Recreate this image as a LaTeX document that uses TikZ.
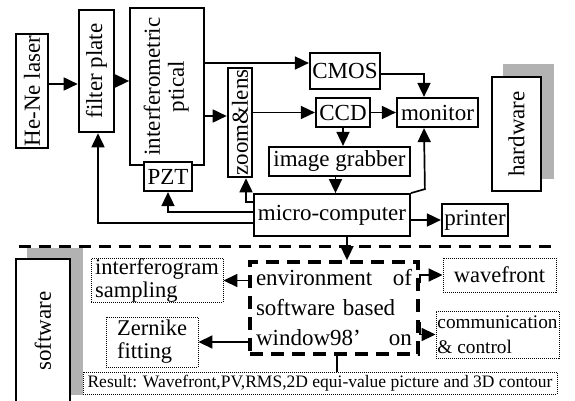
\documentclass[tikz,border=0pt]{standalone}
\usepackage{fontspec}
\setmainfont{Liberation Serif}
\usetikzlibrary{arrows.meta,calc}
\begin{document}
\begin{tikzpicture}[x=1pt,y=-1pt,
  box/.style={draw, line width=#1, fill=white, inner sep=0pt, font=\fontsize{23}{24}\selectfont},
  box/.default=1.8pt,
  dbox/.style={draw, line width=0.9pt, dash pattern=on 1pt off 1pt, fill=white, inner sep=0pt, font=\fontsize{22.5}{23}\selectfont},
  arr/.style={-{Triangle[length=14pt,width=13pt]}, line width=1.7pt},
  ln/.style={line width=1.7pt},
  shadow/.style={fill=gray!60}]
\useasboundingbox (0,0) rectangle (575,401);
\clip (0,0) rectangle (575,401);
% hardware nodes
\node[box, minimum width=32pt, minimum height=114pt] (laser) at (32,91) {\rotatebox{90}{He-Ne laser}};
\node[box=2.6pt, minimum width=35pt, minimum height=122pt] (filter) at (96.5,71) {\rotatebox{90}{filter plate}};
\node[box, minimum width=74pt, minimum height=157pt] (interf) at (167,86.5) {\rotatebox{90}{\begin{tabular}{@{}c@{}}interferometric\\ptical\end{tabular}}};
\node[box=2.2pt, minimum width=48pt, minimum height=29pt] (pzt) at (168,176.5) {PZT};
\node[box=2.6pt, minimum width=24pt, minimum height=109pt] (zoom) at (240,122.5) {\rotatebox{90}{zoom\&lens}};
\node[box=2.2pt, minimum width=70pt, minimum height=36pt] (cmos) at (345,71) {CMOS};
\node[box=2.2pt, minimum width=54pt, minimum height=29pt] (ccd) at (343,112.5) {CCD};
\node[box=2.2pt, minimum width=81pt, minimum height=29pt] (monitor) at (437.5,112.5) {monitor};
\node[box=2.2pt, minimum width=141pt, minimum height=29pt] (grab) at (339.5,161.5) {image grabber};
\node[box, minimum width=156pt, minimum height=42pt] (micro) at (332,215) {micro-computer};
\node[box=2.2pt, minimum width=66pt, minimum height=32pt] (printer) at (475,220) {printer};
\fill[shadow] (503,64) rectangle (554,179);
\node[box=2.2pt, minimum width=49pt, minimum height=114pt] (hw) at (516.5,134) {\rotatebox{90}{hardware}};
% connectors (upper)
\draw[arr] ($(laser.east)+(0,-7)$) coordinate (a1) -- (a1 -| filter.west);
\draw[arr] ($(filter.east)+(0,10)$) coordinate (a2) -- (a2 -| interf.west);
\draw[arr] ($(interf.east)+(0,-23.5)$) coordinate (a3) -- (a3 -| cmos.west);
\draw[arr] ($(interf.east)+(0,29.5)$) coordinate (a4) -- (a4 -| zoom.west);
\draw[arr] (zoom.east |- ccd.west) -- (ccd.west);
\draw[arr] (ccd.east) -- (monitor.west);
\coordinate (mx) at (424,0);
\draw[arr] ($(cmos.east)+(0,3)$) coordinate (a5) -| (monitor.north -| mx);
\draw[arr] (ccd.south) -- (grab.north -| ccd.south);
\draw[arr] ($(grab.south)+(-4,0)$) coordinate (a6) -- (a6 |- micro.north);
\draw[arr] (micro.north east) -- ($(micro.north east)+(14,-4)$) -- (monitor.south -| mx);
\draw[arr] (micro.east |- printer.west) -- (printer.west);
\draw[arr] ($(micro.west)+(0,-13)$) -| ($(zoom.south)+(6,0)$);
\draw[arr] ($(micro.west)+(0,-3)$) -| (pzt.south);
\draw[arr] ($(micro.west)+(0,8)$) -| ($(filter.south)+(1.5,0)$);
% separator
\draw[line width=3pt, dash pattern=on 12pt off 8pt] (19,246) -- (558,246);
% software part
\fill[shadow] (27,248) rectangle (83,395);
\node[box=2.2pt, minimum width=54pt, minimum height=144pt] (sw) at (43,331) {\rotatebox{90}{software}};
\node[dbox, minimum width=474pt, minimum height=22pt, font=\fontsize{17.5}{20}\selectfont] (res) at (320,383) {Result: Wavefront,PV,RMS,2D equi-value picture and 3D contour};
\node[draw, line width=3.8pt, dash pattern=on 13pt off 8pt, minimum width=168pt, minimum height=92pt, inner xsep=6pt, inner ysep=0pt, text width=156pt, font=\fontsize{23}{30}\selectfont] (env) at (334,308) {environment\hfill of\\ software based\\ window98’\hfill on};
\node[dbox, minimum width=132pt, minimum height=43pt, align=left] (isamp) at (157,280.5) {interferogram\\sampling};
\node[dbox, minimum width=92pt, minimum height=50pt, align=left] (zern) at (152,342) {Zernike\\fitting};
\node[dbox, minimum width=113pt, minimum height=34pt] (wave) at (499.5,275) {wavefront};
\node[dbox, minimum width=123pt, minimum height=47pt, align=left, font=\fontsize{19.3}{25}\selectfont] (comm) at (497.5,334.5) {communication\\\& control};
\draw[arr] ($(micro.south)+(15,0)$) coordinate (a7) -- (a7 |- env.north);
\draw[arr] (env.west |- isamp.east) -- (isamp.east);
\draw[arr] (env.west |- zern.east) -- (zern.east);
\coordinate (e1) at (420,283);
\coordinate (e2) at (420,322);
\draw[arr] (e1) |- (wave.west);
\draw[arr] (e2) |- (comm.west);
\draw[ln] ($(env.south)+(3,0)$) coordinate (a8) -- (a8 |- res.north);
\end{tikzpicture}
\end{document}
